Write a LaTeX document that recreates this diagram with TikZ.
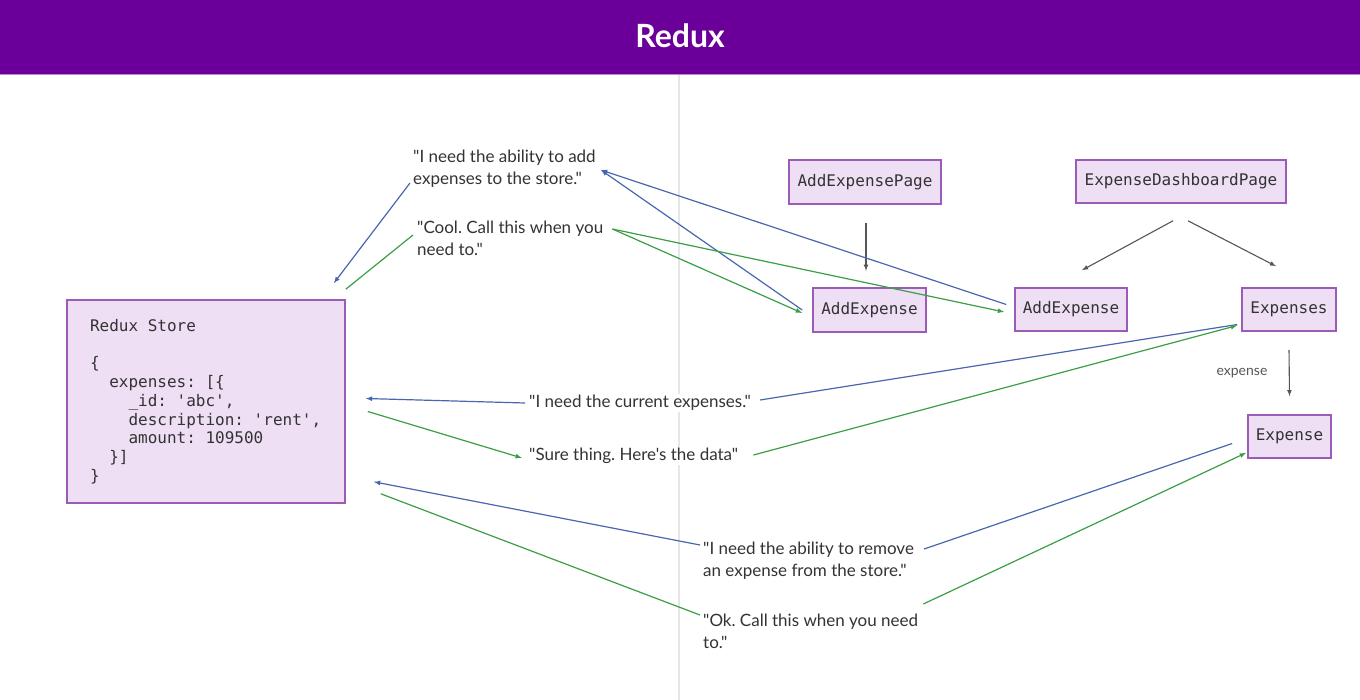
\documentclass[tikz,border=0pt]{standalone}
\usepackage{fontspec}
\setmainfont{Lato}[Ligatures=TeXOff]
\setmonofont{DejaVu Sans Mono}
\newcommand{\gap}{\phantom{x}}

\definecolor{headerpurple}{HTML}{6A0099}
\definecolor{headerline}{HTML}{B58AD6}
\definecolor{boxfill}{HTML}{EEDFF5}
\definecolor{boxborder}{HTML}{9B5CB8}
\definecolor{textgray}{HTML}{333333}
\definecolor{askblue}{HTML}{4A66B0}
\definecolor{replygreen}{HTML}{3A9E44}
\definecolor{treegray}{HTML}{555555}
\definecolor{dividergray}{HTML}{E6E6E6}

\begin{document}
\begin{tikzpicture}[x=1pt, y=-1pt,
    box/.style={draw=boxborder, fill=boxfill, line width=1.6pt, inner sep=0pt,
        text=textgray, font=\ttfamily\fontsize{16}{18.75}\selectfont},
    say/.style={fill=white, inner sep=1pt, anchor=west, align=left,
        text=textgray, font=\fontsize{17}{22}\selectfont\frenchspacing},
    ask/.style={draw=askblue, line width=1.2pt},
    reply/.style={draw=replygreen, line width=1.2pt},
    tree/.style={draw=treegray, line width=1.1pt, -latex}]

    \useasboundingbox (0,0) rectangle (1360,700);

    % header
    \fill[headerpurple] (0,0) rectangle (1360,74);
    \draw[headerline, line width=1.5pt] (0,74.5) -- (1360,74.5);
    \node[font=\bfseries\fontsize{32}{38}\selectfont, text=white] (title) at (680,36) {Redux};

    % divider
    \draw[dividergray, line width=1.5pt] (679,75) -- (679,700);

    % store
    \node[box, minimum width=278, minimum height=203, text width=232, align=left] (store) at (206,401.5)
        {Redux\gap Store\\[18.75pt]
         \{\\
         \phantom{xx}expenses:\gap[\{\\
         \phantom{xxxx}\_id:\gap'abc',\\
         \phantom{xxxx}description:\gap'rent',\\
         \phantom{xxxx}amount:\gap109500\\
         \phantom{xx}\}]\\
         \}};

    % components
    \node[box, minimum width=152, minimum height=44] (page) at (865,182) {AddExpensePage};
    \node[box, minimum width=210, minimum height=43] (dash) at (1181,181.5) {ExpenseDashboardPage};
    \node[box, minimum width=113, minimum height=44] (addone) at (869.5,310) {AddExpense};
    \node[box, minimum width=112, minimum height=43] (addtwo) at (1071,309.5) {AddExpense};
    \node[box, minimum width=94, minimum height=43] (exps) at (1289,309.5) {Expenses};
    \node[box, minimum width=83, minimum height=43] (expn) at (1289.5,436.5) {Expense};

    % messages
    \node[say] (addask) at (412,169) {"I need the ability to add\\expenses to the store."};
    \node[say] (addreply) at (416,238) {"Cool. Call this when you\\need to."};
    \node[say] (listask) at (528,403) {"I need the current expenses."};
    \node[say] (listreply) at (528,456) {"Sure thing. Here's the data"};
    \node[say] (removeask) at (702,561) {"I need the ability to remove\\an expense from the store."};
    \node[say] (removereply) at (702,631) {"Ok. Call this when you need\\to."};

    % component tree
    \draw[tree] ([shift={(1,18)}]page.south) -- ([shift={(1,66)}]page.south);
    \draw[tree] ([shift={(-8,17)}]dash.south) -- ([shift={(11,-17)}]addtwo.north);
    \draw[tree] ([shift={(7,17)}]dash.south) -- ([shift={(-13,-21)}]exps.north);
    \draw[tree] ([shift={(0,18)}]exps.south) -- ([shift={(0,-18)}]expn.north)
        node[midway, left=18pt, text=treegray, font=\fontsize{14}{16}\selectfont] (proplabel) {expense};

    % adding an expense
    \draw[ask, -latex] ([shift={(-2,14)}]addask.west) -- ([shift={(-12,-16)}]store.north east);
    \draw[reply] ([shift={(-3,-3)}]addreply.west) -- ([shift={(0,-10)}]store.north east);
    \draw[ask, -latex] ([shift={(-10,0)}]addone.west) -- ([shift={(4,1)}]addask.east);
    \draw[ask, -latex] ([shift={(-8,-5)}]addtwo.west) -- ([shift={(4,1)}]addask.east);
    \draw[reply, -latex] ([shift={(8,-9)}]addreply.east) -- ([shift={(-10,3)}]addone.west);
    \draw[reply, -latex] ([shift={(8,-9)}]addreply.east) -- ([shift={(-10,2.5)}]addtwo.west);

    % reading the expenses
    \draw[ask, -latex] ([shift={(-3,0)}]listask.west) -- ([shift={(20,-3)}]store.east);
    \draw[ask] ([shift={(8,-3)}]listask.east) -- ([shift={(-4,15)}]exps.west);
    \draw[reply, -latex] ([shift={(22,10)}]store.east) -- ([shift={(-6,2)}]listreply.west);
    \draw[reply, -latex] ([shift={(14,-1)}]listreply.east) -- ([shift={(-4,16)}]exps.west);

    % removing an expense
    \draw[ask] ([shift={(-15,7)}]expn.west) -- ([shift={(9,-12)}]removeask.east);
    \draw[ask, -latex] ([shift={(-2,-16)}]removeask.west) -- ([shift={(28,-22)}]store.south east);
    \draw[reply] ([shift={(35,-10)}]store.south east) -- ([shift={(-2,-16)}]removereply.west);
    \draw[reply, -latex] ([shift={(4,-27)}]removereply.east) -- ([shift={(-1,-6)}]expn.south west);
\end{tikzpicture}
\end{document}
